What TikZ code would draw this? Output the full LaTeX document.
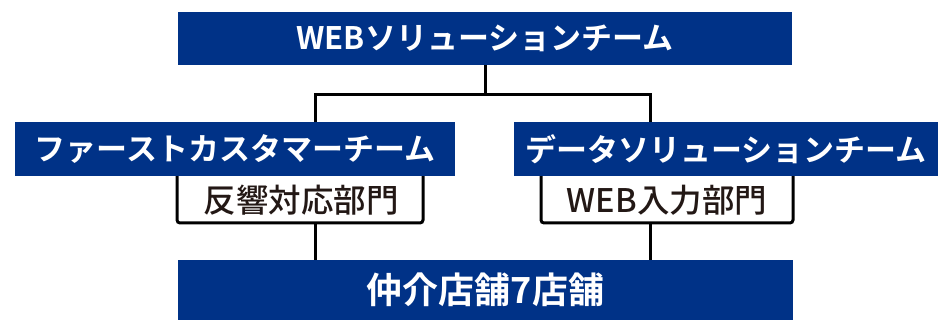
\documentclass[tikz,border=0pt]{standalone}
\usepackage{fontspec}
\setmainfont{Noto Sans CJK JP}[BoldFont={Noto Sans CJK JP Bold}]
\newfontfamily\jpmed{Noto Sans CJK JP Medium}
\definecolor{navy}{RGB}{0,50,135}
\definecolor{ink}{RGB}{35,24,21}
\begin{document}
\begin{tikzpicture}[x=1pt,y=-1pt,
  bluebox/.style={fill=navy,draw=none,inner sep=0pt,text=white,font=\bfseries\fontsize{31}{31}\selectfont},
  whitebox/.style={fill=white,draw=black,line width=3pt,rounded corners=3pt,inner sep=0pt},
  wtext/.style={text=ink,inner sep=0pt,font=\jpmed\fontsize{32.5}{32.5}\selectfont},
  conn/.style={draw=black,line width=3pt}]
\useasboundingbox (0,0) rectangle (945,320);
% white boxes first (blue boxes overlap their tops)
\node[whitebox,minimum width=246pt,minimum height=56pt] (lw) at (300,195) {};
\node[wtext] (lwt) at (301,200) {反響対応部門};
\node[whitebox,minimum width=252pt,minimum height=56pt] (rw) at (667,195) {};
\node[wtext] (rwt) at (667,200) {WEB入力部門};
\node[bluebox,minimum width=614pt,minimum height=53pt] (top) at (485,38.5) {WEBソリューションチーム};
\node[bluebox,minimum width=440pt,minimum height=54pt] (lb) at (235,149) {ファーストカスタマーチーム};
\node[bluebox,minimum width=424pt,minimum height=54pt] (rb) at (726,149) {データソリューションチーム};
\node[bluebox,minimum width=615pt,minimum height=60pt,font=\bfseries\fontsize{36}{36}\selectfont] (bot) at (485.5,290) {仲介店舗7店舗};
\coordinate (j) at (485,95);
\coordinate (jl) at (315,95);
\coordinate (jr) at (650,95);
\draw[conn] (top.south) -- (j);
\draw[conn,line cap=rect] (jl) -- (jr);
\draw[conn] (jl) -- (jl |- lb.north);
\draw[conn] (jr) -- (jr |- rb.north);
\draw[conn] (lw.south -| jl) -- (jl |- bot.north);
\draw[conn] (rw.south -| jr) -- (jr |- bot.north);
\end{tikzpicture}
\end{document}
